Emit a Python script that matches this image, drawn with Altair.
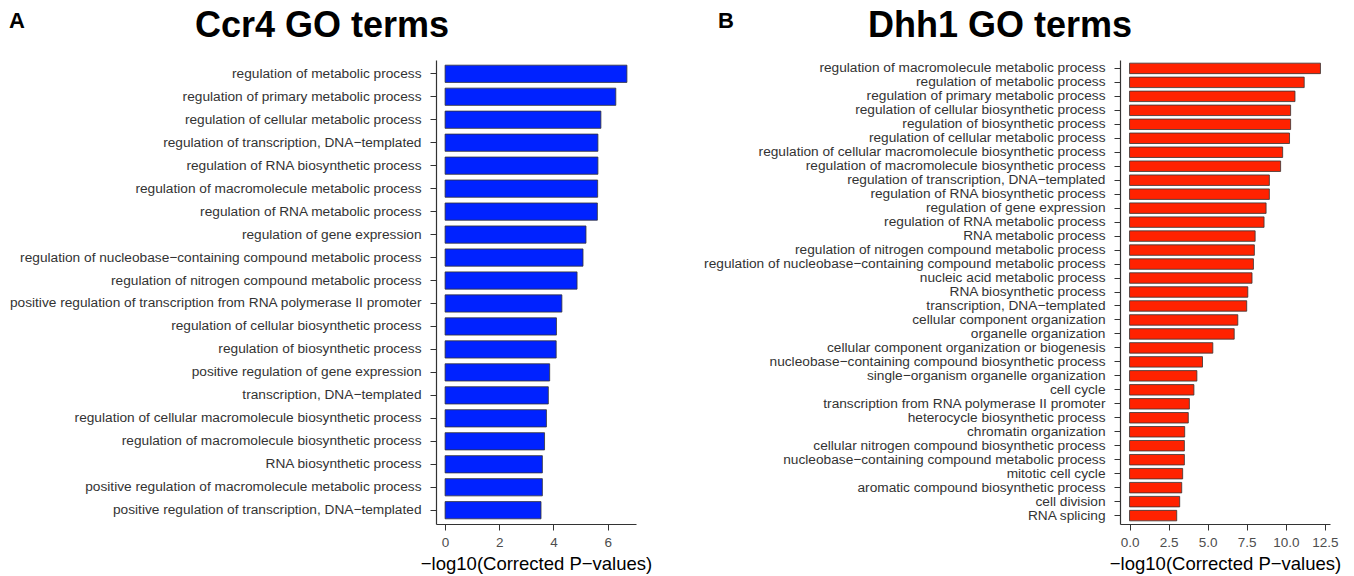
import altair as alt
import pandas as pd

FONT = "Liberation Sans"
AXIS_TITLE = "−log10(Corrected P−values)"

# Panel A: Ccr4 GO terms
ccr4_terms = [
    "regulation of metabolic process",
    "regulation of primary metabolic process",
    "regulation of cellular metabolic process",
    "regulation of transcription, DNA−templated",
    "regulation of RNA biosynthetic process",
    "regulation of macromolecule metabolic process",
    "regulation of RNA metabolic process",
    "regulation of gene expression",
    "regulation of nucleobase−containing compound metabolic process",
    "regulation of nitrogen compound metabolic process",
    "positive regulation of transcription from RNA polymerase II promoter",
    "regulation of cellular biosynthetic process",
    "regulation of biosynthetic process",
    "positive regulation of gene expression",
    "transcription, DNA−templated",
    "regulation of cellular macromolecule biosynthetic process",
    "regulation of macromolecule biosynthetic process",
    "RNA biosynthetic process",
    "positive regulation of macromolecule metabolic process",
    "positive regulation of transcription, DNA−templated",
]
ccr4_values = [6.71, 6.30, 5.75, 5.64, 5.64, 5.63, 5.62, 5.20, 5.09, 4.87,
               4.31, 4.11, 4.10, 3.86, 3.81, 3.74, 3.67, 3.59, 3.59, 3.54]
ccr4_ticks = [0, 2, 4, 6]

# Panel B: Dhh1 GO terms
dhh1_terms = [
    "regulation of macromolecule metabolic process",
    "regulation of metabolic process",
    "regulation of primary metabolic process",
    "regulation of cellular biosynthetic process",
    "regulation of biosynthetic process",
    "regulation of cellular metabolic process",
    "regulation of cellular macromolecule biosynthetic process",
    "regulation of macromolecule biosynthetic process",
    "regulation of transcription, DNA−templated",
    "regulation of RNA biosynthetic process",
    "regulation of gene expression",
    "regulation of RNA metabolic process",
    "RNA metabolic process",
    "regulation of nitrogen compound metabolic process",
    "regulation of nucleobase−containing compound metabolic process",
    "nucleic acid metabolic process",
    "RNA biosynthetic process",
    "transcription, DNA−templated",
    "cellular component organization",
    "organelle organization",
    "cellular component organization or biogenesis",
    "nucleobase−containing compound biosynthetic process",
    "single−organism organelle organization",
    "cell cycle",
    "transcription from RNA polymerase II promoter",
    "heterocycle biosynthetic process",
    "chromatin organization",
    "cellular nitrogen compound biosynthetic process",
    "nucleobase−containing compound metabolic process",
    "mitotic cell cycle",
    "aromatic compound biosynthetic process",
    "cell division",
    "RNA splicing",
]
dhh1_values = [12.22, 11.18, 10.59, 10.31, 10.31, 10.24, 9.80, 9.67, 8.95, 8.95,
               8.74, 8.61, 8.04, 7.99, 7.93, 7.84, 7.57, 7.50, 6.93, 6.70,
               5.33, 4.67, 4.31, 4.12, 3.83, 3.76, 3.53, 3.51, 3.51, 3.40,
               3.34, 3.21, 3.02]
dhh1_ticks = [0, 2.5, 5, 7.5, 10, 12.5]


def panel(terms, values, color, letter, title, ticks, fmt, width,
          letter_x, title_x):
    df = pd.DataFrame({"term": terms, "value": values})
    vmax = max(values)
    # 5% expansion on both ends of the value axis
    xscale = alt.Scale(domain=[-0.05 * vmax, 1.05 * vmax], nice=False)

    bars = alt.Chart(df).mark_bar(
        color=color, stroke="#333333", strokeWidth=0.8
    ).encode(
        x=alt.X("value:Q", scale=xscale,
                axis=alt.Axis(values=ticks, format=fmt, title=AXIS_TITLE)),
        y=alt.Y("term:N", sort=terms,
                scale=alt.Scale(paddingInner=0.25, paddingOuter=0.225),
                axis=alt.Axis(title=None, labelLimit=0)),
    )

    heading = alt.Chart(pd.DataFrame({"t": [title]})).mark_text(
        font=FONT, fontSize=36, fontWeight="bold",
        align="center", baseline="alphabetic", color="black",
    ).encode(x=alt.value(title_x), y=alt.value(-23), text="t:N")

    tag = alt.Chart(pd.DataFrame({"t": [letter]})).mark_text(
        font=FONT, fontSize=22, fontWeight="bold",
        align="left", baseline="alphabetic", color="black",
    ).encode(x=alt.value(letter_x), y=alt.value(-32), text="t:N")

    return alt.layer(bars, heading, tag).properties(width=width, height=464)


left = panel(ccr4_terms, ccr4_values, "#0022FF", "A", "Ccr4 GO terms",
             ccr4_ticks, "d", 200, -427, -114)
right = panel(dhh1_terms, dhh1_values, "#FF2200", "B", "Dhh1 GO terms",
              dhh1_ticks, ".1f", 210, -402, -120)

chart = alt.hconcat(left, right, spacing=51).properties(
    padding={"left": 8, "top": 8, "right": 5, "bottom": 2}
).configure_view(
    stroke=None
).configure_axis(
    grid=False,
    domainColor="#333333",
    domainWidth=1.2,
    tickColor="#333333",
    tickSize=6,
    labelFont=FONT,
    labelFontSize=13.7,
    labelColor="#333333",
    titleFont=FONT,
    titleFontSize=18.5,
    titleFontWeight="normal",
    titleColor="black",
).configure_axisX(
    labelPadding=5,
    titlePadding=6,
    labelFontSize=13.5,
    labelColor="#4D4D4D",
).configure_axisY(
    labelPadding=9,
)

chart.save("out.html", embed_options={"renderer": "svg", "actions": False})
